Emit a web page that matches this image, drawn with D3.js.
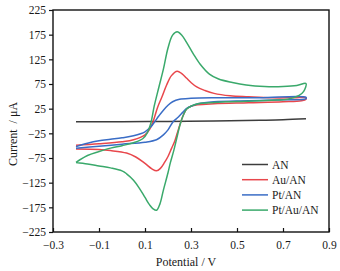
<!DOCTYPE html>
<html>
<head>
<meta charset="utf-8">
<script src="https://cdn.jsdelivr.net/npm/d3@7"></script>
<style>
    body { margin: 0; background: #fff; }
    text { font-family: "Liberation Serif", "DejaVu Serif", serif; fill: #1a1a1a; }
</style>
</head>
<body>
<div id="chart"></div>
<script>
// potential (V) / current (uA) pairs, forward sweep then reverse sweep
var anScan = [[-0.2, -1.5], [0, -1.3], [0.2, -1], [0.4, 0], [0.6, 1.5], [0.7, 2.5], [0.8, 4.5]];

var auForward = [[-0.2, -49], [-0.1, -46], [0, -42], [0.05, -38], [0.1, -28], [0.12, -17], [0.136, 0],
    [0.155, 28], [0.173, 48], [0.194, 73], [0.215, 92], [0.24, 101], [0.26, 96], [0.28, 87], [0.3, 78],
    [0.325, 69], [0.36, 62], [0.4, 56], [0.47, 51], [0.55, 49], [0.65, 47], [0.75, 47], [0.8, 47]];
var auReverse = [[0.8, 44], [0.78, 41], [0.7, 39], [0.55, 37], [0.4, 35], [0.33, 33], [0.3, 30], [0.28, 24],
    [0.265, 10], [0.25, -10], [0.24, -25], [0.23, -40], [0.215, -56], [0.2, -72], [0.185, -84], [0.167, -96],
    [0.15, -101], [0.13, -97], [0.1, -86], [0.06, -73], [0.02, -65], [-0.05, -60], [-0.1, -58], [-0.2, -57]];

var ptForward = [[-0.2, -52], [-0.15, -45], [-0.1, -40], [-0.05, -37], [0, -34], [0.05, -30], [0.1, -22],
    [0.125, -12], [0.14, -3], [0.16, 10], [0.18, 22], [0.2, 32], [0.22, 39], [0.25, 44], [0.3, 46],
    [0.4, 47], [0.6, 47], [0.8, 48]];
var ptReverse = [[0.8, 45], [0.7, 43], [0.55, 41], [0.4, 39], [0.33, 35], [0.3, 30], [0.28, 25], [0.265, 18],
    [0.245, 8], [0.223, -1], [0.2, -18], [0.18, -28], [0.15, -38], [0.1, -43], [0, -47], [-0.1, -51], [-0.2, -55]];

var ptAuForward = [[-0.2, -84], [-0.15, -70], [-0.1, -62], [-0.05, -55], [0, -50], [0.05, -44], [0.09, -36],
    [0.11, -24], [0.125, -5], [0.14, 30], [0.16, 68], [0.18, 105], [0.2, 148], [0.22, 174], [0.24, 181],
    [0.26, 174], [0.28, 160], [0.31, 136], [0.34, 115], [0.38, 95], [0.42, 85], [0.48, 78], [0.54, 73],
    [0.62, 70], [0.7, 70], [0.76, 72], [0.8, 76]];
var ptAuReverse = [[0.79, 60], [0.77, 52], [0.72, 44], [0.65, 42], [0.55, 40], [0.45, 39], [0.38, 37],
    [0.33, 35], [0.3, 30], [0.28, 24], [0.265, 10], [0.252, -8], [0.238, -35], [0.225, -60], [0.21, -85],
    [0.2, -105], [0.18, -140], [0.165, -168], [0.15, -181], [0.135, -178], [0.12, -170], [0.1, -155],
    [0.075, -136], [0.05, -120], [0.02, -107], [0, -101], [-0.05, -95], [-0.1, -91], [-0.15, -87], [-0.2, -84]];

var seriesNames = ['AN', 'Au/AN', 'Pt/AN', 'Pt/Au/AN'];
var seriesColors = ['#3d3d3d', '#e8474c', '#3a6dc6', '#3aa96b'];
var xTicks = [-0.3, -0.1, 0.1, 0.3, 0.5, 0.7, 0.9];
var yTicks = [-225, -175, -125, -75, -25, 25, 75, 125, 175, 225];

var width = 340, height = 271;
var margin = { top: 10, right: 11, bottom: 39, left: 53 };
var innerW = width - margin.left - margin.right;
var innerH = height - margin.top - margin.bottom;

var svg = d3.select('#chart')
    .append('svg')
    .attr('width', width)
    .attr('height', height)
    .append('g')
    .attr('transform', `translate(${margin.left},${margin.top})`);

var xScale = d3.scaleLinear().domain([-0.3, 0.9]).range([0, innerW]);
var yScale = d3.scaleLinear().domain([-225, 225]).range([innerH, 0]);

var lines = [
    anScan,
    auForward.concat(auReverse),
    ptForward.concat(ptReverse),
    ptAuForward.concat(ptAuReverse)
];

var line = d3.line()
    .x(function (d) { return xScale(d[0]); })
    .y(function (d) { return yScale(d[1]); })
    .curve(d3.curveCatmullRom.alpha(0.5));

svg.append('g').selectAll('path').data(lines)
    .join('path')
    .attr('fill', 'none')
    .attr('stroke', function (d, i) { return seriesColors[i]; })
    .attr('stroke-width', 1.5)
    .attr('d', line);

// axes: y ticks outward, x ticks inward
var xAxis = svg.append('g')
    .attr('transform', `translate(0,${innerH})`)
    .call(d3.axisBottom(xScale).tickValues(xTicks).tickFormat(d3.format('.1f'))
        .tickSizeInner(-4).tickSizeOuter(0).tickPadding(9));
var yAxis = svg.append('g')
    .call(d3.axisLeft(yScale).tickValues(yTicks).tickSizeInner(4).tickSizeOuter(0).tickPadding(3));

[xAxis, yAxis].forEach(function (ax) {
    ax.select('.domain').remove();
    ax.selectAll('line').attr('stroke', '#111').attr('stroke-width', 1.2);
    ax.selectAll('text').attr('font-size', '11.5px').attr('font-family', '"Liberation Serif", serif').attr('fill', '#1a1a1a');
});

svg.append('rect')
    .attr('width', innerW)
    .attr('height', innerH)
    .attr('fill', 'none')
    .attr('stroke', '#111')
    .attr('stroke-width', 1.4);

svg.append('text')
    .attr('x', 186 - margin.left)
    .attr('y', 266 - margin.top)
    .attr('text-anchor', 'middle')
    .attr('font-size', '12px')
    .text('Potential / V');

svg.append('text')
    .attr('transform', `translate(${17 - margin.left},${134 - margin.top}) rotate(-90)`)
    .attr('text-anchor', 'middle')
    .attr('font-size', '12px')
    .style('white-space', 'pre')
    .text('Current  / μA');

var legend = svg.append('g')
    .attr('transform', `translate(${242 - margin.left},${164.5 - margin.top})`);
var rows = legend.selectAll('g').data(seriesNames)
    .join('g')
    .attr('transform', function (d, i) { return `translate(0,${i * 15.2})`; });
rows.append('line')
    .attr('x1', 0).attr('x2', 26)
    .attr('stroke', function (d, i) { return seriesColors[i]; })
    .attr('stroke-width', 1.5);
rows.append('text')
    .attr('x', 30)
    .attr('dy', '0.35em')
    .attr('font-size', '11.5px')
    .text(function (d) { return d; });
</script>
</body>
</html>
